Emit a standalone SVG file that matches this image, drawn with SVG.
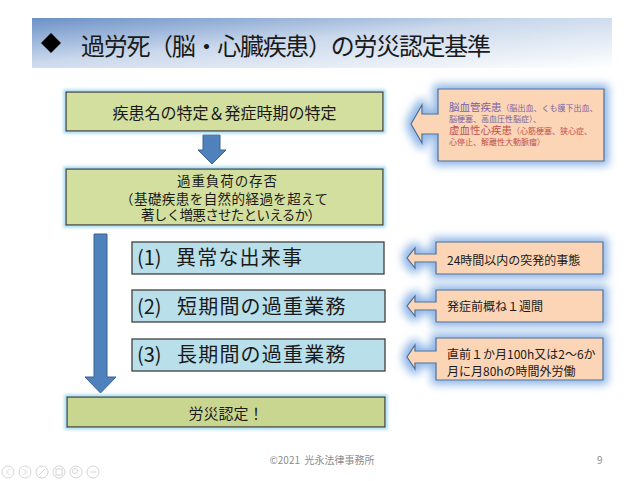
<svg xmlns="http://www.w3.org/2000/svg" width="640" height="481" viewBox="0 0 640 481">
<defs>
<linearGradient id="titleGrad" x1="0" y1="0" x2="1" y2="1">
<stop offset="0" stop-color="#6b91c7"/>
<stop offset="0.45" stop-color="#cbd9ec"/>
<stop offset="1" stop-color="#ffffff"/>
</linearGradient>
<filter id="glowSmall" x="-10%" y="-30%" width="120%" height="160%">
<feMorphology in="SourceAlpha" operator="dilate" radius="2" result="d"/>
<feGaussianBlur in="d" stdDeviation="1.5" result="b"/>
<feFlood flood-color="#a8dcf0"/>
<feComposite in2="b" operator="in" result="g"/>
<feMerge><feMergeNode in="g"/><feMergeNode in="SourceGraphic"/></feMerge>
</filter>
<filter id="glowBig" x="-20%" y="-50%" width="140%" height="200%">
<feMorphology in="SourceAlpha" operator="dilate" radius="4" result="d"/>
<feGaussianBlur in="d" stdDeviation="4" result="b"/>
<feFlood flood-color="#8db5e6"/>
<feComposite in2="b" operator="in" result="g"/>
<feMerge><feMergeNode in="g"/><feMergeNode in="SourceGraphic"/></feMerge>
</filter>
<style>
text { font-family: "Noto Sans CJK JP", "Noto Sans", sans-serif; fill: #1a1a1a; }
.green { fill: #d3df9f; stroke: #3c3c3c; stroke-width: 1.3; }
.green2 { fill: #c9d68f; stroke: #3c3c3c; stroke-width: 1.3; }
.blue { fill: #b9dfea; stroke: #404040; stroke-width: 1.3; }
.callout { fill: #fbd5b6; stroke: #4a6e98; stroke-width: 1.2; }
.arrow { fill: #4f81bd; stroke: #3a6290; stroke-width: 1; }
.ctr { text-anchor: middle; }
.purple { fill: #7d63a4; }
.red { fill: #c4504c; }
.foot { fill: #8c8c8c; font-size: 10px; }
.icon { fill: none; stroke: #d4d4d4; stroke-width: 1; }
</style>
</defs>

<rect width="640" height="481" fill="#ffffff"/>

<g id="title">
<rect x="32" y="18" width="580" height="50" fill="url(#titleGrad)"/>
<polygon points="51,33 61,43 51,53 41,43" fill="#000000"/>
<text x="81" y="55" font-size="24" textLength="410" lengthAdjust="spacing">過労死（脳・心臓疾患）の労災認定基準</text>
</g>

<g id="connectors">
<path class="arrow" d="M203,135 H220 V150 H226 L212,164 L198,150 H203 Z"/>
<path class="arrow" d="M94,234 H107 V377 H116 L100.5,393 L85,377 H94 Z"/>
</g>

<g id="node-identify">
<rect class="green" x="66" y="92" width="317" height="39" filter="url(#glowSmall)"/>
<text class="ctr" x="224.5" y="119" font-size="16">疾患名の特定＆発症時期の特定</text>
</g>

<g id="node-overload">
<rect class="green" x="66" y="169" width="317" height="56" filter="url(#glowSmall)"/>
<text class="ctr" x="227" y="186" font-size="13.5" textLength="100" lengthAdjust="spacing">過重負荷の存否</text>
<text class="ctr" x="224" y="203.5" font-size="13.5" textLength="208" lengthAdjust="spacing">（基礎疾患を自然的経過を超えて</text>
<text x="141" y="219.5" font-size="13.5" textLength="180" lengthAdjust="spacing">著しく増悪させたといえるか）</text>
</g>

<g id="node-1">
<rect class="blue" x="132" y="242" width="252" height="32"/>
<text y="265" font-size="20"><tspan x="137">(1)</tspan><tspan x="176" letter-spacing="1.2">異常な出来事</tspan></text>
</g>

<g id="node-2">
<rect class="blue" x="132" y="290" width="253" height="32"/>
<text y="313.5" font-size="20"><tspan x="137">(2)</tspan><tspan x="177" letter-spacing="1.2">短期間の過重業務</tspan></text>
</g>

<g id="node-3">
<rect class="blue" x="132" y="339" width="253" height="32"/>
<text y="361.5" font-size="20"><tspan x="137">(3)</tspan><tspan x="177" letter-spacing="1.2">長期間の過重業務</tspan></text>
</g>

<g id="node-approved">
<rect class="green2" x="67" y="397" width="318" height="30" filter="url(#glowSmall)"/>
<text class="ctr" x="226" y="418.5" font-size="15">労災認定！</text>
</g>

<g id="callout-diseases">
<path class="callout" filter="url(#glowBig)" d="M438,89 H604 V161 H438 V134 H422 V143 L411,124 L422,105 V114 H438 Z"/>
<text x="449" y="110.7"><tspan class="purple" font-size="10.5">脳血管疾患</tspan><tspan class="purple" font-size="8">（脳出血、くも膜下出血、</tspan></text>
<text x="449" y="122" font-size="8" class="purple">脳梗塞、高血圧性脳症）、</text>
<text x="449" y="134"><tspan class="red" font-size="10.5">虚血性心疾患</tspan><tspan class="red" font-size="8">（心筋梗塞、狭心症、</tspan></text>
<text x="449" y="144.7" font-size="8" class="red">心停止、解離性大動脈瘤）</text>
</g>

<g id="callout-1">
<path class="callout" filter="url(#glowBig)" d="M436,242 H603 V274 H436 V262 H415 V268 L407,258 L415,248 V254 H436 Z"/>
<text x="447" y="264.5" font-size="12">24時間以内の突発的事態</text>
</g>

<g id="callout-2">
<path class="callout" filter="url(#glowBig)" d="M436,290 H603 V322 H436 V310 H415 V316 L407,306 L415,296 V302 H436 Z"/>
<text x="447" y="311" font-size="12">発症前概ね１週間</text>
</g>

<g id="callout-3">
<path class="callout" filter="url(#glowBig)" d="M436,338 H603 V380 H436 V363 H415 V369 L407,357 L415,345 V351 H436 Z"/>
<text x="447" y="359" font-size="12">直前１か月100h又は2～6か</text>
<text x="447" y="375.5" font-size="12">月に月80hの時間外労働</text>
</g>

<g id="footer">
<text class="foot ctr" x="322" y="464" xml:space="preserve">©2021  光永法律事務所</text>
<text class="foot" x="597" y="464">9</text>
</g>

<g id="controls">
<circle class="icon" cx="8" cy="472" r="6"/>
<path class="icon" d="M9.5,469 L6.5,472 L9.5,475"/>
<circle class="icon" cx="25" cy="472" r="6"/>
<path class="icon" d="M23.5,469 L26.5,472 L23.5,475"/>
<circle class="icon" cx="42" cy="472" r="6"/>
<path class="icon" d="M39,475 L45,469"/>
<circle class="icon" cx="59" cy="472" r="6"/>
<rect class="icon" x="56" y="469" width="6" height="6"/>
<circle class="icon" cx="76" cy="472" r="6"/>
<circle class="icon" cx="75" cy="471" r="2.5"/>
<circle class="icon" cx="93" cy="472" r="6"/>
<path class="icon" d="M90,472 H96"/>
</g>
</svg>
